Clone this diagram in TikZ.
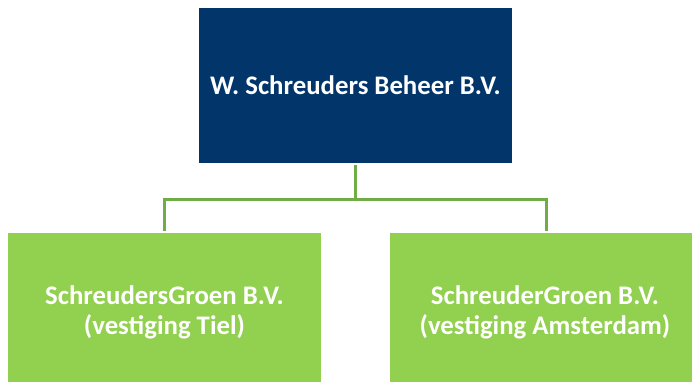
\documentclass[tikz,border=0pt]{standalone}
\usepackage{fontspec}
\setmainfont{Carlito}
\definecolor{navy}{HTML}{02366A}
\definecolor{leaf}{HTML}{92D050}
\definecolor{linegreen}{HTML}{70AD47}
\begin{document}
\begin{tikzpicture}[x=1pt,y=-1pt,
  topbox/.style={fill=navy,text=white,font=\bfseries\fontsize{26.8}{30}\selectfont,align=center},
  subbox/.style={fill=leaf,text=white,font=\bfseries\fontsize{26.8}{30}\selectfont,align=center},
  conn/.style={draw=linegreen,line width=3pt}]
\useasboundingbox (0,0) rectangle (692,382);
\path[topbox] (199,8) rectangle (512,163);
\node[topbox] (top) at (355.5,85.5) {W. Schreuders Beheer B.V.};
\path[subbox] (8,233) rectangle (321,382);
\path[subbox] (390,233) rectangle (692,382);
\node[subbox] (left) at (164.5,312) {SchreudersGroen B.V.\\(vestiging Tiel)};
\node[subbox] (right) at (545,312) {SchreuderGroen B.V.\\(vestiging Amsterdam)};
\coordinate (top bottom) at (355,165);
\coordinate (mid) at (355,199);
\coordinate (lt) at (164,231);
\coordinate (rt) at (546,231);
\draw[conn] (top bottom) -- (mid);
\draw[conn] (lt) |- (mid) -| (rt);
\end{tikzpicture}
\end{document}
